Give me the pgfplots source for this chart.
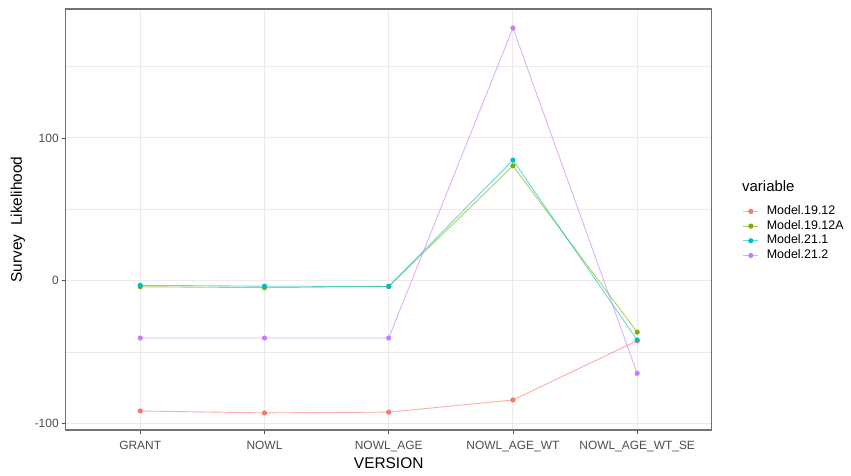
\documentclass[border=0pt]{standalone}
\usepackage{fontspec}
\setmainfont{Liberation Sans}
\usepackage{pgfplots}
\pgfplotsset{compat=1.18}
\definecolor{cA}{HTML}{F8766D}
\definecolor{cB}{HTML}{7CAE00}
\definecolor{cC}{HTML}{00BFC4}
\definecolor{cD}{HTML}{C77CFF}
\definecolor{gridc}{HTML}{EBEBEB}
\definecolor{tickc}{HTML}{4D4D4D}
\begin{document}
\begin{tikzpicture}
\useasboundingbox (0,0) rectangle (851bp,476bp);
\begin{axis}[
  at={(65.7bp,46bp)}, anchor=south west,
  width=646bp, height=421bp, scale only axis,
  xmin=-0.6, xmax=4.6, ymin=-104.5, ymax=190.3,
  xtick={0,1,2,3,4},
  xticklabels={GRANT,NOWL,NOWL\_AGE,NOWL\_AGE\_WT,NOWL\_AGE\_WT\_SE},
  ytick={-100,0,100}, yticklabels={-100,0,100},
  minor ytick={-50,50,150},
  grid=both,
  major grid style={draw=gridc, line width=1bp},
  minor grid style={draw=gridc, line width=0.6bp},
  axis line style={draw=black!55, line width=1.3bp},
  tick align=outside, major tick length=3.5bp, minor tick length=0pt,
  tick style={draw=black!70, line width=0.8bp},
  xtick pos=bottom, ytick pos=left,
  ticklabel style={font=\fontsize{12}{14}\selectfont, text=tickc},
  xticklabel style={yshift=-4bp},
  xlabel={VERSION}, ylabel={Survey\ \ Likelihood},
  label style={font=\fontsize{15.5}{18}\selectfont},
  xlabel style={at={(axis description cs:0.5,-0.066)}, anchor=north, inner sep=0pt},
  ylabel style={at={(axis description cs:-0.074,0.5)}, anchor=center, inner sep=0pt},
  legend style={at={(axis description cs:1.048,0.534)}, anchor=north west,
    draw=none, fill=none, inner sep=0pt,
    font=\fontsize{12.5}{14}\selectfont,
    nodes={inner sep=0pt, text height=9bp, text depth=3bp},
    row sep=2.7bp,
    /tikz/every odd column/.append style={column sep=8bp}},
  legend cell align=left,
  legend image code/.code={\draw[mark repeat=2, mark phase=2, #1] plot coordinates {(0bp,0bp) (7.5bp,0bp) (15bp,0bp)};},
  every axis plot/.append style={line width=0.9bp, draw opacity=0.6, mark=*, mark size=2.1bp, mark options={draw opacity=1, fill opacity=1}},
]
\addplot[cA] coordinates {(0,-91.2) (1,-92.5) (2,-92.0) (3,-83.5) (4,-42.0)};
\addlegendentry{Model.19.12}
\addplot[cB] coordinates {(0,-4.2) (1,-4.8) (2,-4.0) (3,80.5) (4,-36.0)};
\addlegendentry{Model.19.12A}
\addplot[cC] coordinates {(0,-3.2) (1,-3.8) (2,-4.0) (3,84.5) (4,-41.5)};
\addlegendentry{Model.21.1}
\addplot[cD] coordinates {(0,-40.1) (1,-40.1) (2,-40.1) (3,177.0) (4,-64.8)};
\addlegendentry{Model.21.2}
\end{axis}
\node[anchor=west, inner sep=0pt, font=\fontsize{15}{18}\selectfont] at (742bp,290bp) {variable};
\end{tikzpicture}
\end{document}
